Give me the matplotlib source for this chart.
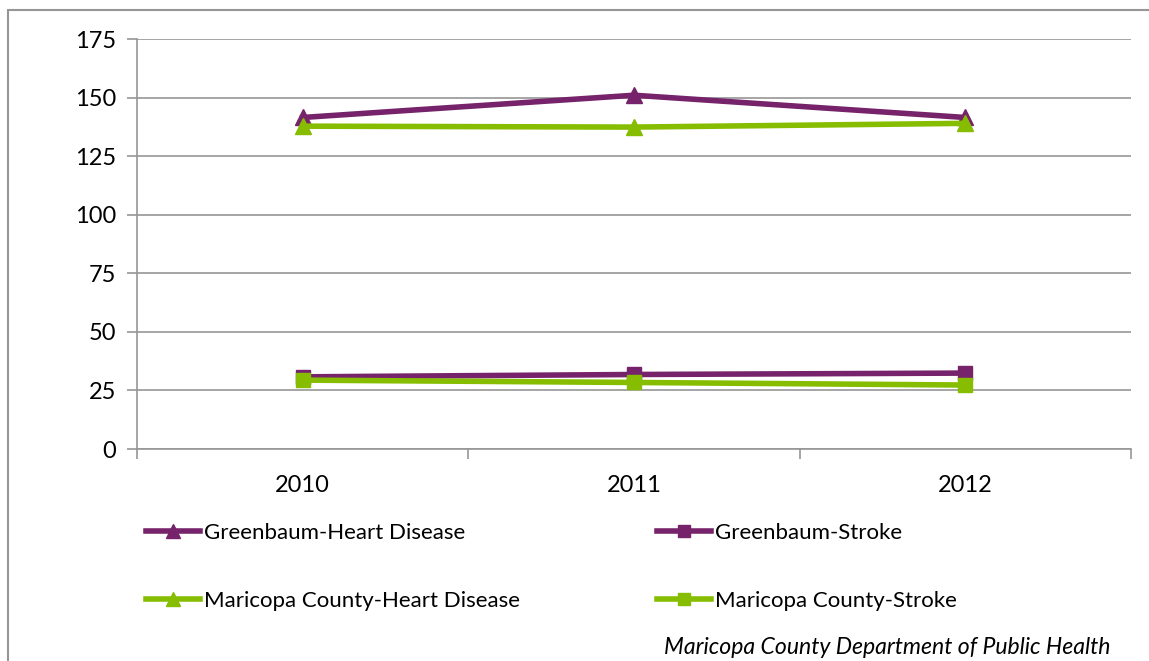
import matplotlib
matplotlib.use("Agg")
import matplotlib.pyplot as plt
from matplotlib.patches import Rectangle
from matplotlib.lines import Line2D

years = ["2010", "2011", "2012"]
greenbaum_heart = [141.5, 151.0, 141.5]
greenbaum_stroke = [30.8, 31.8, 32.4]
maricopa_heart = [137.8, 137.4, 139.0]
maricopa_stroke = [29.4, 28.4, 27.3]
series_labels = ["Greenbaum-Heart Disease", "Greenbaum-Stroke",
                 "Maricopa County-Heart Disease", "Maricopa County-Stroke"]
yticks = [0, 25, 50, 75, 100, 125, 150, 175]
source = "Maricopa County Department of Public Health"

PURPLE = "#76236B"
GREEN = "#86BD00"
GRID = "#969696"

plt.rcParams['font.family'] = ['Lato', 'DejaVu Sans']

W, H = 1149, 661
fig = plt.figure(figsize=(W / 100, H / 100), dpi=100)
ax = fig.add_axes([137 / W, 1 - 449 / H, (1131 - 137) / W, (449 - 39) / H])

LW = 4.0
x = range(len(years))
ax.plot(x, greenbaum_heart, color=PURPLE, lw=LW, marker="^", ms=11, zorder=3)
ax.plot(x, greenbaum_stroke, color=PURPLE, lw=LW, marker="s", ms=10, zorder=3)
ax.plot(x, maricopa_heart, color=GREEN, lw=LW, marker="^", ms=11, zorder=4)
ax.plot(x, maricopa_stroke, color=GREEN, lw=LW, marker="s", ms=10, zorder=4)

ax.set_xlim(-0.5, 2.5)
ax.set_ylim(0, 175)
ax.set_yticks(yticks)
ax.set_yticklabels([str(t) for t in yticks])
ax.set_xticks([0, 1, 2])
ax.set_xticklabels(years)
ax.set_xticks([-0.5, 0.5, 1.5, 2.5], minor=True)
ax.tick_params(axis="x", which="major", length=0, pad=19, labelsize=17)
ax.tick_params(axis="x", which="minor", length=7, color=GRID, width=1.2, direction="out")
ax.tick_params(axis="y", length=7, color=GRID, width=1.2, labelsize=17, pad=8)
ax.yaxis.grid(True, color=GRID, lw=1.2)
ax.set_axisbelow(True)
for s in ["top", "right"]:
    ax.spines[s].set_visible(False)
for s in ["left", "bottom"]:
    ax.spines[s].set_color(GRID)
    ax.spines[s].set_linewidth(1.2)

handles = [
    Line2D([], [], color=PURPLE, lw=LW, marker="^", ms=10),
    Line2D([], [], color=PURPLE, lw=LW, marker="s", ms=9),
    Line2D([], [], color=GREEN, lw=LW, marker="^", ms=10),
    Line2D([], [], color=GREEN, lw=LW, marker="s", ms=9),
]
common = dict(loc="upper left", frameon=False, fontsize=16, handlelength=2.45,
              handletextpad=0.15, labelspacing=2.15, borderaxespad=0,
              borderpad=0)
fig.legend(handles[0::2], series_labels[0::2],
           bbox_to_anchor=(146 / W, 1 - 523 / H), **common)
fig.legend(handles[1::2], series_labels[1::2],
           bbox_to_anchor=(657 / W, 1 - 523 / H), **common)

fig.text(1110 / W, 1 - 648 / H, source, ha="right", va="center",
         fontsize=16.6, style="italic")

fig.patches.append(Rectangle((8 / W, -0.1), 1.2, 1 - 10 / H + 0.1,
                             transform=fig.transFigure, fill=False,
                             edgecolor=GRID, lw=1.5))

fig.savefig("out.png", dpi=100)
